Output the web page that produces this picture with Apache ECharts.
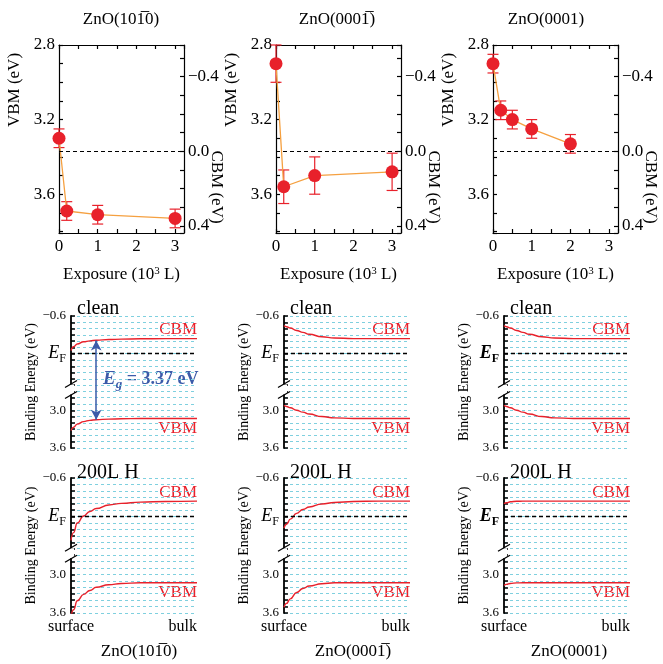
<!DOCTYPE html>
<html>
<head>
<meta charset="utf-8">
<script src="https://cdn.jsdelivr.net/npm/echarts@6/dist/echarts.min.js"></script>
<style>
  html, body { margin: 0; background: #fff; }
  #chart { width: 663px; height: 664px; }
</style>
</head>
<body>
<div id="chart"></div>
<script>
const SERIF = '"Liberation Serif", "DejaVu Serif", serif';
const RED = '#e8212b';
const ORANGE = '#f5a040';
const CYAN = '#7fd0df';
const BLUE = '#3b5ba9';

// ---- top row: VBM vs H exposure (10^3 L) ----
const EG = 3.37; // CBM = VBM - EG
const exp1010 = [0, 0.2, 1, 3];
const vbm1010 = [3.30, 3.69, 3.71, 3.73];
const err1010 = [0.05, 0.05, 0.05, 0.05];
const exp0001b = [0, 0.2, 1, 3];
const vbm0001b = [2.90, 3.56, 3.50, 3.48];
const err0001b = [0.10, 0.09, 0.10, 0.10];
const exp0001 = [0, 0.2, 0.5, 1, 2];
const vbm0001 = [2.90, 3.15, 3.20, 3.25, 3.33];
const err0001 = [0.05, 0.05, 0.05, 0.05, 0.05];

const surfaces = ['ZnO(10' + '1\u0305' + '0)', 'ZnO(000' + '1\u0305' + ')', 'ZnO(0001)'];
const expTicks = [0, 1, 2, 3];
const vbmTicks = [2.8, 3.2, 3.6];
const cbmTicks = [-0.4, 0.0, 0.4];

// ---- band diagrams: depth from surface (0) to bulk (1), energies in eV ----
const depth = [0, 0.02, 0.05, 0.1, 0.15, 0.2, 0.3, 0.4, 0.55, 0.75, 1];
const cbmClean1010 = [-0.05, -0.11, -0.155, -0.19, -0.205, -0.215, -0.225, -0.232, -0.237, -0.24, -0.24];
const vbmClean1010 = [3.32, 3.27, 3.22, 3.18, 3.16, 3.15, 3.14, 3.135, 3.13, 3.13, 3.13];
const cbmClean0001b = [-0.45, -0.43, -0.41, -0.37, -0.34, -0.31, -0.27, -0.25, -0.24, -0.24, -0.24];
const vbmClean0001b = [2.92, 2.94, 2.96, 3.00, 3.03, 3.06, 3.10, 3.12, 3.13, 3.13, 3.13];
const cbmClean0001 = [-0.45, -0.43, -0.41, -0.37, -0.34, -0.31, -0.27, -0.25, -0.24, -0.24, -0.24];
const vbmClean0001 = [2.92, 2.94, 2.96, 3.00, 3.03, 3.06, 3.10, 3.12, 3.13, 3.13, 3.13];
const cbmH1010 = [0.37, 0.25, 0.10, -0.01, -0.08, -0.125, -0.18, -0.205, -0.225, -0.235, -0.24];
const vbmH1010 = [3.66, 3.55, 3.41, 3.31, 3.25, 3.20, 3.16, 3.14, 3.13, 3.13, 3.13];
const cbmH0001b = [0.18, 0.12, 0.04, -0.05, -0.11, -0.15, -0.195, -0.22, -0.235, -0.24, -0.24];
const vbmH0001b = [3.51, 3.45, 3.38, 3.28, 3.22, 3.18, 3.145, 3.13, 3.13, 3.13, 3.13];
const cbmH0001 = [-0.20, -0.215, -0.23, -0.238, -0.24, -0.24, -0.24, -0.24, -0.24, -0.24, -0.24];
const vbmH0001 = [3.17, 3.155, 3.14, 3.132, 3.13, 3.13, 3.13, 3.13, 3.13, 3.13, 3.13];
const energyTicks = [-0.6, 3.0, 3.6];
const bandStates = ['clean', '200L H'];
const egArrow = { x: 0.2, from: -0.21, to: 3.15 };

// broken energy axis: values in the lower block are shifted up by SHIFT
const SHIFT = 2.1;
const BREAK_AT = 0.57;
const toAxis = (e) => (e > 2 ? e - SHIFT : e);
const fromAxis = (v) => (v > BREAK_AT ? v + SHIFT : v);

const TOP_LEFTS = [59, 276, 493];
const TOP_W = 125;
const EXP_MAX = 3.23;
const BAND_LEFTS = [71, 284, 504];
const BAND_W = 126;
const BAND_ROWS = [{ top: 316, height: 132 }, { top: 478, height: 135 }];

const fmt1 = (v) => (v < 0 ? '\u2212' + Math.abs(v).toFixed(1) : v.toFixed(1));
const near = (list, v) => list.find((t) => Math.abs(t - v) < 1e-6);
const black = { color: '#000', width: 1.2 };

const grids = [];
const xAxes = [];
const yAxes = [];
const series = [];
const graphics = [];

function renderErr(params, api) {
  const x = api.value(0), y = api.value(1), e = api.value(2);
  const a = api.coord([x, y - e]);
  const b = api.coord([x, y + e]);
  const w = 5.5;
  const style = { stroke: RED, lineWidth: 1.2 };
  return {
    type: 'group',
    children: [
      { type: 'line', shape: { x1: a[0], y1: a[1], x2: b[0], y2: b[1] }, style },
      { type: 'line', shape: { x1: a[0] - w, y1: a[1], x2: a[0] + w, y2: a[1] }, style },
      { type: 'line', shape: { x1: b[0] - w, y1: b[1], x2: b[0] + w, y2: b[1] }, style },
    ],
  };
}

function renderBreak(params, api) {
  const p = api.coord([api.value(0), api.value(1)]);
  const x = p[0], y = p[1];
  const style = { stroke: '#000', lineWidth: 1.3 };
  return {
    type: 'group',
    children: [
      { type: 'rect', shape: { x: x - 3, y: y - 5, width: 6, height: 10 }, style: { fill: '#fff' } },
      { type: 'line', shape: { x1: x - 6, y1: y - 2, x2: x + 6, y2: y - 9 }, style },
      { type: 'line', shape: { x1: x - 6, y1: y + 9, x2: x + 6, y2: y + 2 }, style },
    ],
  };
}

function text(str, x, y, extra, rotation) {
  return {
    type: 'text', silent: true, x, y, rotation: rotation || 0,
    style: Object.assign({
      text: str, fill: '#000', fontSize: 17, fontFamily: SERIF,
      align: 'center', verticalAlign: 'middle',
    }, extra),
  };
}

// ---- top row ----
const topData = [
  [exp1010, vbm1010, err1010],
  [exp0001b, vbm0001b, err0001b],
  [exp0001, vbm0001, err0001],
];

TOP_LEFTS.forEach((left) => {
  grids.push({ left, top: 45, width: TOP_W, height: 188, outerBoundsMode: 'none' });
});

TOP_LEFTS.forEach((left, i) => {
  xAxes[i] = {
    gridIndex: i, type: 'value', min: 0, max: EXP_MAX, interval: 0.5,
    axisLine: { onZero: false, lineStyle: black },
    axisTick: { inside: true, length: 4, lineStyle: black },
    axisLabel: {
      formatter: (v) => (near(expTicks, v) !== undefined ? String(v) : ''),
      fontSize: 17, color: '#000', fontFamily: SERIF, margin: 5,
    },
    splitLine: { show: false },
    name: 'Exposure (10{sup|3} L)', nameLocation: 'middle', nameGap: 33,
    nameTextStyle: {
      fontSize: 17, color: '#000', fontFamily: SERIF,
      rich: { sup: { fontSize: 11, fontFamily: SERIF, color: '#000', verticalAlign: 'top' } },
    },
  };
  xAxes[3 + i] = {
    gridIndex: i, type: 'value', position: 'top', min: 0, max: EXP_MAX, interval: 0.5,
    axisLine: { onZero: false, lineStyle: black },
    axisTick: { inside: true, length: 4, lineStyle: black },
    axisLabel: { show: false },
    splitLine: { show: false },
  };
  yAxes[i] = {
    gridIndex: i, type: 'value', inverse: true, min: 2.8, max: 3.808, interval: 0.1,
    axisLine: { onZero: false, lineStyle: black },
    axisTick: { inside: true, length: 4, lineStyle: black },
    axisLabel: {
      formatter: (v) => { const t = near(vbmTicks, v); return t !== undefined ? t.toFixed(1) : ''; },
      fontSize: 17, color: '#000', fontFamily: SERIF, margin: 4,
    },
    splitLine: { show: false },
  };
  yAxes[3 + i] = {
    gridIndex: i, type: 'value', position: 'right', inverse: true,
    min: 2.8 - EG, max: 3.808 - EG, minInterval: 0.1, maxInterval: 0.1,
    axisLine: { onZero: false, lineStyle: black },
    axisTick: { inside: true, length: 4, lineStyle: black },
    axisLabel: {
      formatter: (v) => { const t = near(cbmTicks, v); return t !== undefined ? fmt1(t) : ''; },
      fontSize: 17, color: '#000', fontFamily: SERIF, margin: 4,
    },
    splitLine: { show: false },
  };

  const [xs, ys, es] = topData[i];
  series.push({
    type: 'custom', xAxisIndex: i, yAxisIndex: i, renderItem: renderErr,
    encode: { x: 0, y: 1 }, silent: true,
    data: xs.map((x, k) => [x, ys[k], es[k]]),
  });
  series.push({
    type: 'line', xAxisIndex: i, yAxisIndex: i,
    data: xs.map((x, k) => [x, ys[k]]),
    symbol: 'circle', symbolSize: 13, showSymbol: true,
    itemStyle: { color: RED },
    lineStyle: { color: ORANGE, width: 1.3 },
    markLine: {
      silent: true, symbol: 'none', label: { show: false },
      lineStyle: { color: '#000', type: [4, 3], width: 1.2 },
      data: [{ yAxis: EG }],
    },
  });

  graphics.push(text(surfaces[i], [121, 337, 546][i], 20));
  graphics.push(text('VBM (eV)', left - 44, 90, {}, Math.PI / 2));
  graphics.push(text('CBM (eV)', left + TOP_W + 32, 187, {}, -Math.PI / 2));
});

// ---- band diagrams ----
const bandCbm = [cbmClean1010, cbmClean0001b, cbmClean0001, cbmH1010, cbmH0001b, cbmH0001];
const bandVbm = [vbmClean1010, vbmClean0001b, vbmClean0001, vbmH1010, vbmH0001b, vbmH0001];

for (let p = 0; p < 6; p++) {
  const row = Math.floor(p / 3);
  const col = p % 3;
  const g = 3 + p;
  const ax = 6 + p;
  const left = BAND_LEFTS[col];
  const { top, height } = BAND_ROWS[row];
  const boldEf = col === 2;
  grids.push({ left, top, width: BAND_W, height, outerBoundsMode: 'none' });

  xAxes[ax] = {
    gridIndex: g, type: 'value', min: 0, max: 1, interval: 1,
    axisLine: { show: false, onZero: false },
    axisTick: { show: false },
    splitLine: { show: false },
    axisLabel: {
      show: row === 1,
      formatter: (v) => (v === 0 ? 'surface' : 'bulk'),
      alignMaxLabel: 'right',
      fontSize: 16, color: '#000', fontFamily: SERIF, margin: 6,
    },
  };
  yAxes[ax] = {
    gridIndex: g, type: 'value', inverse: true, min: -0.6, max: 1.5, interval: 0.1,
    axisLine: { onZero: false, lineStyle: { color: '#000', width: 1.8 } },
    axisTick: { inside: true, length: 4, lineStyle: { color: '#000', width: 1.5 } },
    splitLine: { show: true, lineStyle: { color: CYAN, type: [3, 3], width: 1 } },
    axisLabel: {
      formatter: (v) => {
        if (Math.abs(v) < 1e-6) return '{e|E}{f|F}';
        const t = near(energyTicks, fromAxis(v));
        return t !== undefined ? fmt1(t) : '';
      },
      fontSize: 13, color: '#000', fontFamily: SERIF, margin: 5,
      rich: {
        e: { fontSize: 18, fontStyle: 'italic', fontWeight: boldEf ? 'bold' : 'normal', fontFamily: SERIF, color: '#000', lineHeight: 22 },
        f: { fontSize: 12, fontWeight: boldEf ? 'bold' : 'normal', fontFamily: SERIF, color: '#000', lineHeight: 22, verticalAlign: 'bottom' },
      },
    },
    name: 'Binding Energy (eV)', nameLocation: 'middle', nameGap: 33,
    nameTextStyle: { fontSize: 14, color: '#000', fontFamily: SERIF },
  };

  const cbm = bandCbm[p];
  const vbm = bandVbm[p];
  const curve = { color: RED, width: 1.4 };
  series.push({
    type: 'line', xAxisIndex: ax, yAxisIndex: ax, smooth: 0.5, smoothMonotone: 'x',
    showSymbol: false, silent: true, lineStyle: curve, itemStyle: { color: RED },
    data: depth.map((t, k) => [t, toAxis(cbm[k])]),
    markLine: {
      silent: true, symbol: 'none', label: { show: false },
      lineStyle: { color: '#000', type: [4, 3], width: 1.3 },
      data: [{ yAxis: 0 }],
    },
  });
  const vbmSeries = {
    type: 'line', xAxisIndex: ax, yAxisIndex: ax, smooth: 0.5, smoothMonotone: 'x',
    showSymbol: false, silent: true, lineStyle: curve, itemStyle: { color: RED },
    data: depth.map((t, k) => [t, toAxis(vbm[k])]),
  };
  if (p === 0) {
    vbmSeries.markLine = {
      silent: true, symbol: ['arrow', 'arrow'], symbolSize: [8, 10], label: { show: false },
      lineStyle: { color: BLUE, type: 'solid', width: 1.5 },
      data: [[{ coord: [egArrow.x, toAxis(egArrow.from)] }, { coord: [egArrow.x, toAxis(egArrow.to)] }]],
    };
  }
  series.push(vbmSeries);
  series.push({
    type: 'custom', xAxisIndex: ax, yAxisIndex: ax, renderItem: renderBreak,
    silent: true, z: 5, data: [[0, BREAK_AT]],
  });

  const right = left + BAND_W;
  graphics.push(text(bandStates[row], left + 6, row === 0 ? 309 : 473, { fontSize: 20, align: 'left' }));
  graphics.push(text('CBM', right, row === 0 ? 330 : 493, { fontSize: 17, align: 'right', fill: RED }));
  graphics.push(text('VBM', right, row === 0 ? 429 : 593, { fontSize: 17, align: 'right', fill: RED }));
  if (row === 1) {
    graphics.push(text(surfaces[col], [139, 353, 569][col], 652));
  }
}

graphics.push(text('{e|E}{g|g}{t| = 3.37 eV}', 103, 379, {
  align: 'left',
  rich: {
    e: { fontSize: 19, fontStyle: 'italic', fontWeight: 'bold', fontFamily: SERIF, fill: BLUE, lineHeight: 24 },
    g: { fontSize: 13, fontStyle: 'italic', fontWeight: 'bold', fontFamily: SERIF, fill: BLUE, lineHeight: 24, verticalAlign: 'bottom' },
    t: { fontSize: 18, fontWeight: 'bold', fontFamily: SERIF, fill: BLUE, lineHeight: 24 },
  },
}));

const chart = echarts.init(document.getElementById('chart'));
chart.setOption({
  animation: false,
  textStyle: { fontFamily: SERIF },
  grid: grids,
  xAxis: xAxes,
  yAxis: yAxes,
  series,
  graphic: graphics,
});
</script>
</body>
</html>
